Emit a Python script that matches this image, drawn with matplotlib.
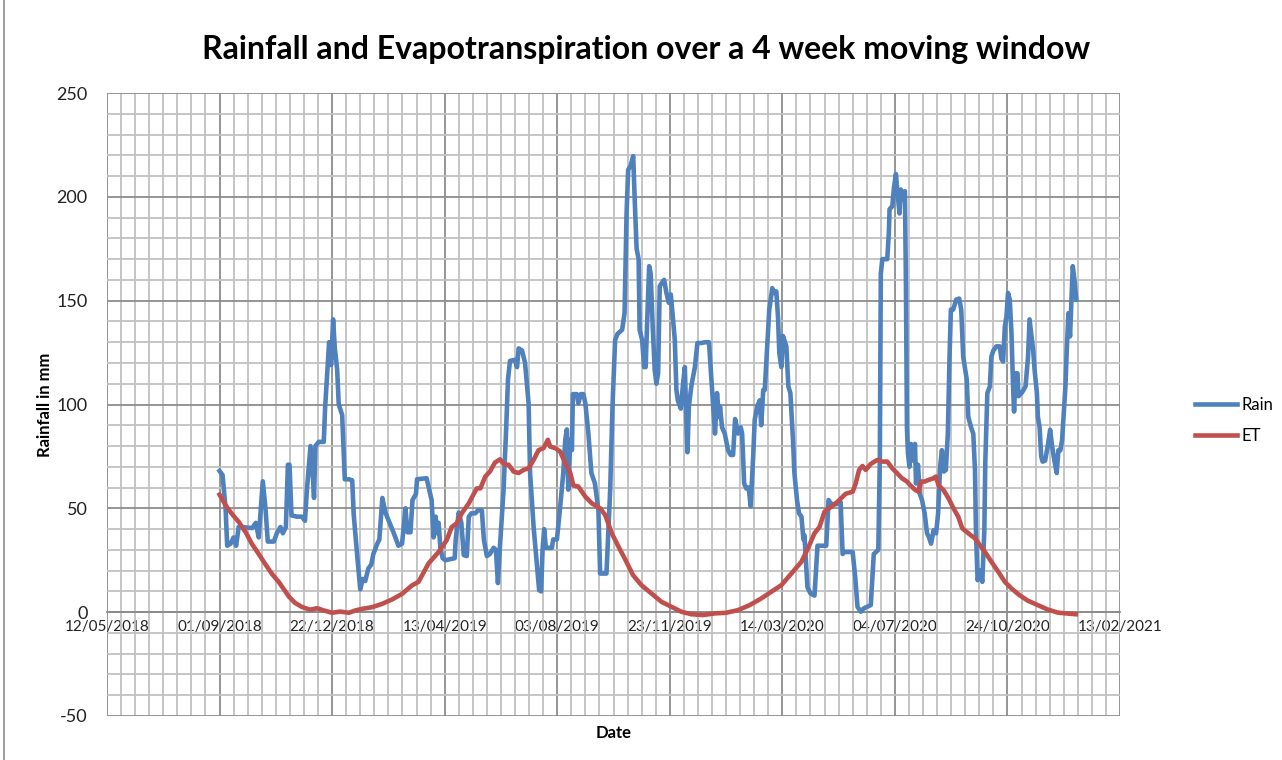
import numpy as np
import matplotlib
matplotlib.use("Agg")
import matplotlib.pyplot as plt
import matplotlib.dates as mdates
from matplotlib.ticker import FixedLocator, MultipleLocator
from matplotlib.lines import Line2D

plt.rcParams['font.family'] = ['Lato', 'DejaVu Sans']
plt.rcParams['axes.unicode_minus'] = False

# day offsets from 01/09/2018 and 4-week totals (mm)
rain_days = [0, 3, 6, 7.6, 11, 14, 16.5, 19, 22.5, 32.5, 36, 39, 43, 45.7, 48, 54, 57, 60.6, 63, 66,
             68, 69.6, 71.6, 77, 82, 85, 87, 90.5, 93, 94, 95.4, 98.7, 103.7, 105, 107, 109, 111, 113,
             114.7, 117, 118.6, 122, 124.6, 128.6, 132, 133.5, 137, 140, 142.5, 145, 148, 151, 153,
             157, 159, 162, 165, 170, 173, 178, 181.6, 185, 187, 190, 192, 195.5, 196.5,
             206, 211, 213, 215, 216.4, 218, 219.7, 222, 224.7, 234, 235, 238, 240.6, 243, 246, 248,
             250.5, 254.5, 257, 261, 263, 266, 269, 272.7, 275, 277, 279, 282.6, 285, 287, 289, 294,
             296, 297.6, 301, 304, 307.5, 309, 312.5, 316, 318, 320, 321.4, 323, 324.7, 330.7, 332,
             335.7, 339, 342, 344, 345.6, 347, 349, 350.6, 351.6, 355.5, 357, 359.5, 362, 364, 367,
             370, 373.5, 377, 378.7, 385, 388.7, 391, 393.6, 396,
             400.6, 403, 405, 406.6, 409, 411.6, 413, 415, 417, 418, 420.5, 422.5, 424, 426, 427.5,
             429, 431, 433, 434.7, 436.4, 438, 440.7, 442.4, 444.7, 447, 449, 451, 453, 454.6, 456,
             459, 461, 463, 464.6, 465.6, 467, 469.5, 473, 475.5, 479.5, 483, 487, 489, 491, 493,
             495, 497, 498, 500, 502.7, 506, 508.6, 511, 513, 516, 518.6, 520, 522, 524, 526.5,
             528.5, 531, 532.5, 535, 537.5, 539, 541, 542.5, 545, 547, 550, 552, 554, 555.7, 557,
             559, 560.6, 564, 566, 568, 570.6, 572, 574.6, 576.6, 579, 581, 582, 585, 588, 592, 595,
             598.8, 603.7, 606, 608.7, 613.7, 618, 620,
             621.6, 630, 632.5, 634.8, 638, 641, 648, 649.6, 651, 655.5, 657, 658, 659.5, 664.4,
             666, 666.7, 669.4, 671, 673, 675, 676.6, 678, 680, 682, 683, 684, 685, 686.5, 688, 690,
             692, 693, 695, 696.7, 699, 701.6, 704, 706, 708, 710.5, 713, 715, 717, 718.8, 720.7,
             722.7, 724.7, 726.3, 727.7, 730, 733, 736, 738, 740, 743.5, 745, 747.8, 750, 751.7,
             752.7, 754.3, 756.6, 759, 761, 762, 764, 766.5, 768, 770, 773, 776.4, 778, 779.7, 781.4,
             783, 784.6, 786.3, 788, 789.6, 790.6, 792, 794, 795, 798, 800, 802, 804.5, 806, 808,
             809.6, 811, 813.3, 814.3, 816, 817.6, 819, 821.5, 824, 826.5, 828.5, 830.7, 833, 834.7,
             836.7, 838.4, 840, 841.7, 843, 844.7, 846.3, 847.4, 849, 850.7, 852.5]
rain_mm = [68, 66, 50, 32, 33, 36, 32, 41, 41, 40.5, 43, 36, 63, 50, 34, 34, 38, 41, 38, 41,
           71, 71, 46.6, 46, 46, 44, 59.5, 80, 64, 55, 80, 82, 82, 98, 114, 130, 119, 141,
           127, 117, 100, 95, 64, 64, 63.5, 47, 27, 11, 16, 15, 21, 23, 28,
           33, 35, 55, 48, 42, 38.5, 32, 33, 50, 38.5, 38.5, 54, 57, 64,
           64.5, 54, 36, 46, 38, 43, 31, 26, 25, 26, 35, 48, 43, 27.5, 27, 46,
           47.6, 47.6, 49, 49, 35, 27, 28, 31, 30, 14, 31.5, 59, 86, 112, 121, 121.5,
           118, 127, 126, 120, 100.6, 67, 41, 22, 10.6, 10, 30, 40, 31, 31, 35,
           35, 51, 67, 83, 88, 59, 83, 78, 105, 105, 100.6, 105, 105, 100.6, 86,
           67, 62, 49, 18.6, 18.6, 59, 99, 131, 134,
           136, 144, 192, 213, 215, 219.6, 200, 175, 170, 136, 131, 118, 118, 147, 166.6,
           163, 137.6, 116.7, 110, 115, 157, 159, 160, 153.7, 149, 153, 142.4, 131, 107, 102,
           98, 109, 118, 91, 77, 99, 109, 118, 129.6, 129.6, 130, 130, 115, 100.6, 86,
           105.5, 94, 99, 89, 86, 78, 75.7, 75.7, 93, 86, 89, 86, 62, 59.6, 60,
           51, 75, 92.6, 99, 102, 90, 107, 107, 128, 145.7, 156, 153.7, 154.5, 142, 124.8,
           118, 133, 128, 108.7, 105.5, 83, 67, 54, 47.6, 46, 35, 37, 12, 9, 8, 32,
           32, 32, 54, 52, 52, 53, 28,
           29, 29, 17, 2.6, 0.2, 1.8, 3.4, 17, 28, 30, 73, 163, 170, 170,
           183, 194, 195.5, 204, 211, 200, 192, 203.5, 198.7, 202.7, 157, 89, 76.5, 70, 81, 73,
           81, 62, 71, 57, 54, 47.6, 38, 36, 33, 39.5, 38, 47.6, 70, 78, 67.7,
           68.5, 86, 121.5, 145.7, 145.7, 150.5, 151, 145.7, 123, 112, 94, 89, 86, 68.5,
           38, 15.4, 20, 14.6, 39.5, 73, 105.5, 108.7, 123, 126, 128, 128, 122, 120.7, 137.6,
           142.4, 153.7, 150.5, 134.4, 108.7, 96.6, 115, 115, 104, 105.5, 107, 108.7, 123, 141, 132.8,
           126, 116.7, 105.5, 94, 89, 75, 72.5, 73, 79.7, 87.8, 79.7, 73, 67, 78,
           78, 83, 95.8, 108.7, 126, 144, 132.8, 147, 166.6, 160, 150.5]

et_days = [0, 6, 12, 19, 26, 32, 39, 45, 52, 59, 64, 69, 75, 82, 90, 97, 104, 112, 120, 128.6,
           135, 142, 151.8, 161.7, 171.6, 181.6, 191.5, 198, 208, 218, 226, 231, 236, 241, 248,
           253, 256, 259.5, 264.4, 269, 274, 279, 283.6, 287.6, 292.6, 297.6, 302.5, 307.5, 312.5,
           317.4, 322.4, 326.7, 329, 334, 339, 344, 349, 352, 357, 364, 370.5, 378.7, 383.7, 390.3,
           397, 403, 411.5, 419.8, 429.8, 439.7, 449.7, 459.6, 469.5, 481, 492.7, 504, 516, 527.5,
           539, 549, 559, 569, 579, 585.5, 592, 597, 602, 608.7, 615, 623, 630, 633, 636.4, 639.7,
           643, 648, 654.5, 659.5, 664.4, 669.4, 674, 679, 684, 687.5, 692.4, 695.7, 698, 701.6,
           705.6, 710.5, 712.8, 715.5, 720.4, 725.4, 730.3, 735, 739, 745, 751.7, 756.6, 761.6,
           768, 774.8, 781.4, 788, 796, 804.4, 814.3, 824, 834, 842.3, 852]
et_mm = [56.6, 51.5, 47.5, 43.5, 38.5, 33, 28, 23.5, 18.5, 14.5, 11, 7.5, 4.5, 2.5, 1.2, 1.9, 0.8, -0.3, 0.3, -0.3,
         0.8, 1.6, 2.4, 4, 6.1, 8.8, 12.9, 14.6, 23.5, 29, 34.7, 41, 42.8, 47.6, 52.4,
         57, 59.6, 59.6, 65.3, 67.7, 72, 73.6, 71, 71, 67.7, 67, 68.5, 69.3, 73.3,
         78, 79, 83, 79.7, 79, 77.3, 71.7, 67, 61, 60.5, 55.6, 52.4, 50, 46.8, 38,
         31.5, 26, 17.8, 13, 9, 5, 2.6, 0.2, -1, -1.4, -0.6, -0.3, 1, 3.4,
         6.6, 9.8, 13, 18.6, 24.3, 30.7, 38, 41, 48.4, 50.8, 53.2, 57, 58, 62, 68.5, 70.4,
         68.5, 71.4, 73.3, 72.5, 72.5, 69.3, 67, 64.5, 62.9, 61, 58.8, 58, 62.9, 62.9,
         63.7, 64.5, 65.3, 61, 58.8, 54.8, 50, 46, 40.4, 38, 35.5, 32.3, 29,
         24.3, 19.5, 14.6, 11.4, 8.2, 5.5, 3.4, 1.3, -0.2, -0.6, -1]

t0 = mdates.datestr2num('2018-09-01')
x_start = mdates.datestr2num('2018-05-12')
x_end = mdates.datestr2num('2021-02-13')

fig = plt.figure(figsize=(12.82, 7.6), dpi=100)
ax = fig.add_axes([107 / 1282, 1 - 716 / 760, (1120 - 107) / 1282, (716 - 93) / 760])

ax.plot(t0 + np.array(rain_days), rain_mm, color='#4F81BD', lw=3.3, label='Rain',
        solid_joinstyle='round', zorder=3)
ax.plot(t0 + np.array(et_days), et_mm, color='#C0504D', lw=3.3, label='ET',
        solid_joinstyle='round', zorder=3)

ax.set_xlim(x_start, x_end)
ax.set_ylim(-50, 250)
ax.xaxis.set_major_locator(FixedLocator(x_start + np.arange(0, 1009, 112)))
ax.xaxis.set_minor_locator(FixedLocator(x_start + np.arange(0, 1009, 14)))
ax.xaxis.set_major_formatter(mdates.DateFormatter('%d/%m/%Y'))
ax.yaxis.set_major_locator(MultipleLocator(50))
ax.yaxis.set_minor_locator(MultipleLocator(10))

ax.grid(which='minor', color='#c0c0c0', lw=1.3, zorder=0)
ax.grid(which='major', color='#8c8c8c', lw=1.3, zorder=1)
ax.set_axisbelow(True)

for s in ['top', 'right', 'left']:
    ax.spines[s].set_visible(False)
ax.spines['bottom'].set_position(('data', 0))
ax.spines['bottom'].set_color('#8c8c8c')
ax.spines['bottom'].set_linewidth(1.3)
ax.tick_params(which='both', length=0)
ax.tick_params(axis='x', labelsize=11, pad=6, colors='#222222')
ax.tick_params(axis='y', labelsize=13, pad=14, colors='#222222')

fig.text(646 / 1282, 1 - 50 / 760, 'Rainfall and Evapotranspiration over a 4 week moving window',
         ha='center', va='center', fontsize=23, fontweight='bold')
fig.text(45 / 1282, 1 - 405 / 760, 'Rainfall in mm', rotation=90, ha='center', va='center',
         fontsize=12, fontweight='bold')
fig.text(614 / 1282, 1 - 733 / 760, 'Date', ha='center', va='center', fontsize=12, fontweight='bold')

fig.legend(loc='center left', bbox_to_anchor=(1180 / 1282, 1 - 420 / 760), frameon=False,
           fontsize=12, handlelength=2.5, labelspacing=0.9, handletextpad=0.3)

fig.add_artist(Line2D([4 / 1282, 4 / 1282], [0, 1], transform=fig.transFigure,
                      color='#8c8c8c', lw=1.2))

fig.savefig('out.png', dpi=100)
